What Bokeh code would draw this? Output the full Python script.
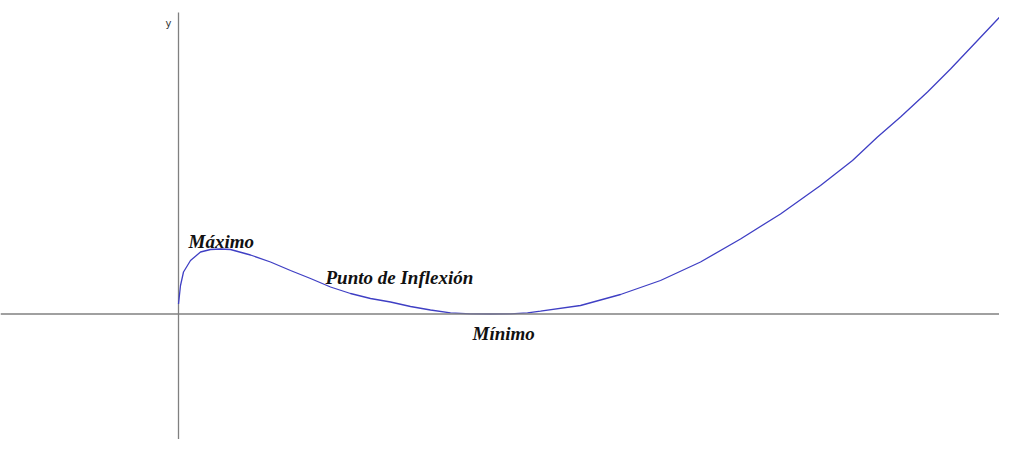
from bokeh.plotting import figure
from bokeh.models import Range1d, Span, ColumnDataSource
from bokeh.core.properties import value
from bokeh.embed import file_html
from bokeh.resources import INLINE

# Curve samples
curve_x = [0.0, 0.02, 0.05, 0.12, 0.22, 0.32, 0.42, 0.52, 0.72, 0.92, 1.12, 1.32, 1.52,
           1.72, 1.92, 2.12, 2.32, 2.52, 2.72, 2.92, 3.12, 3.32, 3.49, 3.62, 4.02, 4.42,
           4.82, 5.22, 5.62, 6.02, 6.42, 6.74, 6.99, 7.22, 7.49, 7.72, 7.99, 8.25]
curve_y = [0.10, 0.285, 0.42, 0.535, 0.62, 0.645, 0.65, 0.645, 0.59, 0.52, 0.435, 0.355, 0.27,
           0.205, 0.155, 0.12, 0.075, 0.04, 0.012, 0.002, 0.0, 0.002, 0.012, 0.028, 0.085, 0.195,
           0.335, 0.52, 0.75, 1.0, 1.285, 1.535, 1.77, 1.97, 2.22, 2.45, 2.735, 3.01]

# Annotation labels
label_text = ["Máximo", "Punto de Inflexión", "Mínimo"]
label_x = [0.10, 1.47, 2.94]
label_y = [0.725, 0.37, -0.195]

axis_label = "y"

p = figure(width=999, height=439, output_backend="svg", toolbar_location=None,
           x_range=Range1d(-1.78, 8.21), y_range=Range1d(-1.255, 3.135),
           min_border=0, min_border_left=0, min_border_right=0,
           min_border_top=0, min_border_bottom=0)
p.axis.visible = False
p.grid.visible = False
p.outline_line_color = None
p.background_fill_color = "white"
p.border_fill_color = "white"

# coordinate axes
p.add_layout(Span(location=0, dimension="width", line_color="#808080", line_width=1.6))
p.segment(x0=[0], y0=[3.015], x1=[0], y1=[-1.4], line_color="#808080", line_width=1.3)

p.line(curve_x, curve_y, line_color="#3f3fc4", line_width=1.3)

src = ColumnDataSource(dict(x=label_x, y=label_y, t=label_text))
p.text(x="x", y="y", text="t", source=src, text_font=value("Liberation Serif"),
       text_font_style="bold italic", text_font_size="19px", text_color="#111111",
       text_baseline="alphabetic", text_align="left")

p.text(x=[-0.13], y=[2.905], text=[axis_label], text_font=value("DejaVu Sans"),
       text_font_size="10px", text_color="#333333", text_baseline="alphabetic")

open("out.html", "w").write(file_html(p, INLINE))
